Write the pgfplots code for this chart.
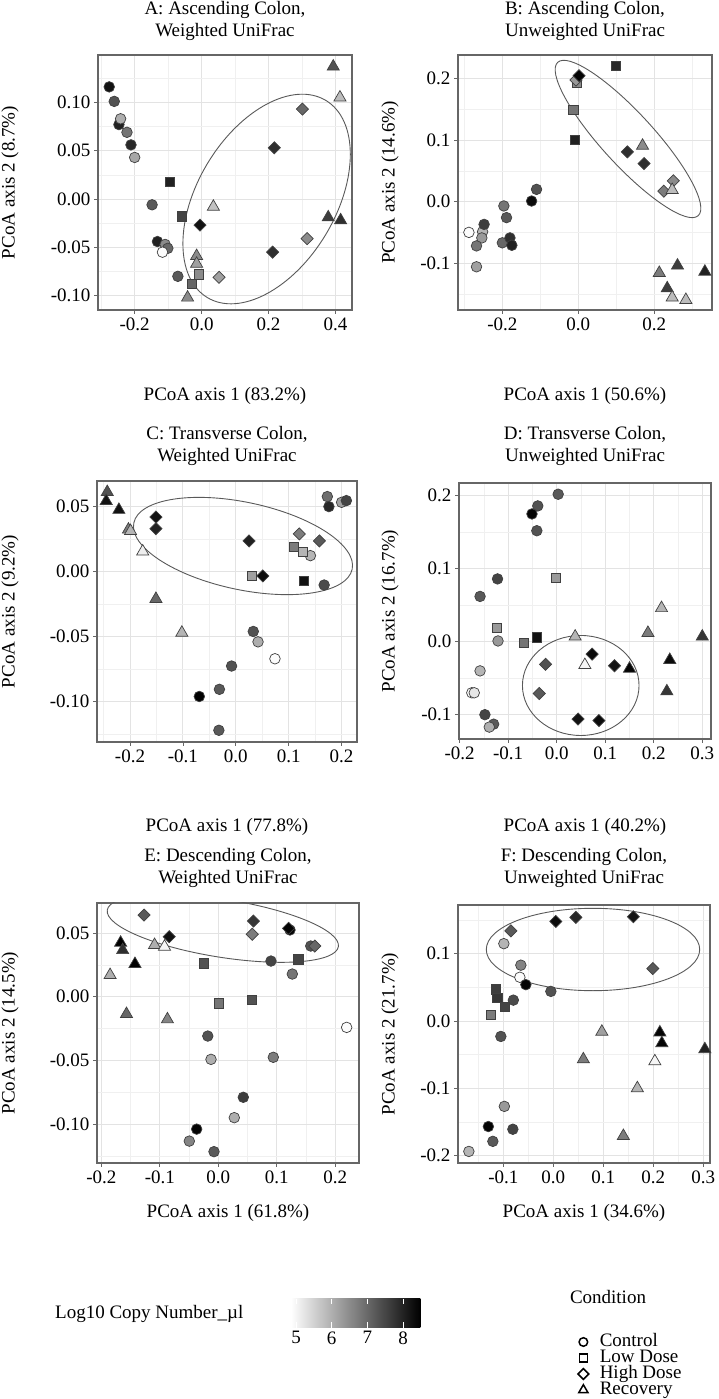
\documentclass[border=0pt]{standalone}
\usepackage{fontspec}
\setmainfont{Liberation Serif}
\usepackage{pgfplots}
\pgfplotsset{compat=1.18}

\newcommand{\txt}{\fontsize{19}{22}\selectfont}

\pgfplotsset{
  panel/.style={
    scale only axis, anchor=south west,
    tick pos=left, tick align=outside,
    major tick length=4pt, minor tick length=0pt,
    tick style={black!60, line width=0.8pt},
    axis line style={black!60, line width=1.1pt},
    grid=both,
    major grid style={black!11, line width=0.9pt},
    minor grid style={black!6, line width=0.6pt},
    ticklabel style={font=\txt, text=black},
    scaled ticks=false,
    /pgf/number format/assume math mode=true,
    /pgf/number format/fixed, /pgf/number format/fixed zerofill,
    colormap={bw}{gray(0cm)=(1); gray(1cm)=(0)},
    point meta min=4.854, point meta max=8.485,
  },
  pt/.style={only marks, scatter, point meta=explicit,
    scatter/use mapped color={draw=black!75, fill=mapped color}},
  ctrl/.style={pt, mark=*, mark size=5.3pt, mark options={line width=0.7pt}},
  low/.style={pt, mark=square*, mark size=4.6pt, mark options={line width=0.7pt}},
  high/.style={pt, mark=square*, mark size=4.3pt, mark options={line width=0.7pt, rotate=45}},
  rec/.style={pt, mark=triangle*, mark size=7pt, mark options={line width=0.7pt}},
}
\tikzset{ell/.style={draw=black!65, line width=0.9pt}}

\begin{document}
\begin{tikzpicture}
\useasboundingbox (0pt,0pt) rectangle (718pt,1399pt);

% ---------------- A ----------------
\begin{axis}[panel, at={(98pt,1089pt)}, width=254pt, height=255pt,
  xmin=-0.3095, xmax=0.449, ymin=-0.1148, ymax=0.149,
  xtick={-0.2,0,0.2,0.4}, minor xtick={-0.3,-0.1,0.1,0.3},
  ytick={-0.1,-0.05,0,0.05,0.1}, minor ytick={-0.125,-0.075,-0.025,0.025,0.075,0.125},
  xticklabel style={/pgf/number format/precision=1},
  yticklabel style={/pgf/number format/precision=2}]
\addplot[ctrl] table[meta=c] {
x y c
-0.276 0.116 8.2
-0.261 0.101 7.3
-0.247 0.077 8.0
-0.242 0.083 6.0
-0.223 0.069 6.8
-0.211 0.056 7.9
-0.200 0.043 6.1
-0.148 -0.006 7.2
-0.132 -0.044 8.0
-0.109 -0.047 6.5
-0.101 -0.051 7.0
-0.117 -0.055 4.9
-0.071 -0.080 7.2
};
\addplot[low] table[meta=c] {
x y c
-0.095 0.018 8.0
-0.058 -0.018 7.5
-0.009 -0.078 6.5
-0.029 -0.088 7.0
};
\addplot[high] table[meta=c] {
x y c
-0.005 -0.027 8.2
0.301 0.093 7.0
0.217 0.053 7.8
0.212 -0.055 7.8
0.315 -0.041 6.5
0.052 -0.081 6.2
};
\addplot[rec] table[meta=c] {
x y c
0.393 0.137 7.3
0.413 0.105 5.8
0.035 -0.008 5.7
0.378 -0.019 7.6
0.415 -0.022 7.8
-0.015 -0.059 6.5
-0.015 -0.067 6.2
-0.042 -0.102 6.5
};
\draw[ell] (axis cs:0.194,0) ellipse [x radius=115pt, y radius=69pt, rotate=59];
\end{axis}

% ---------------- B ----------------
\begin{axis}[panel, at={(458pt,1089pt)}, width=254pt, height=255pt,
  xmin=-0.3167, xmax=0.3518, ymin=-0.1763, ymax=0.2387,
  xtick={-0.2,0,0.2}, minor xtick={-0.3,-0.1,0.1,0.3},
  ytick={-0.1,0,0.1,0.2}, minor ytick={-0.15,-0.05,0.05,0.15},
  xticklabel style={/pgf/number format/precision=1},
  yticklabel style={/pgf/number format/precision=1}]
\addplot[ctrl] table[meta=c] {
x y c
-0.288 -0.050 4.9
-0.252 -0.049 5.9
-0.248 -0.037 7.6
-0.254 -0.059 6.3
-0.268 -0.072 6.8
-0.268 -0.106 6.2
-0.196 -0.007 6.8
-0.189 -0.026 7.2
-0.200 -0.067 7.0
-0.180 -0.059 7.8
-0.175 -0.071 8.0
-0.123 0.001 8.3
-0.110 0.020 7.3
};
\addplot[low] table[meta=c] {
x y c
0.098 0.221 7.9
-0.003 0.193 6.5
-0.013 0.149 6.8
-0.009 0.100 8.0
};
\addplot[high] table[meta=c] {
x y c
-0.006 0.198 6.3
0.002 0.205 8.4
0.129 0.081 7.8
0.173 0.062 7.8
0.225 0.017 6.7
0.250 0.034 6.5
};
\addplot[rec] table[meta=c] {
x y c
0.169 0.091 6.5
0.247 0.019 5.8
0.213 -0.116 6.7
0.261 -0.104 7.6
0.234 -0.141 7.6
0.247 -0.156 5.8
0.283 -0.160 5.8
0.333 -0.114 8.0
};
\draw[ell] (axis cs:0.1307,0.102) ellipse [x radius=104pt, y radius=26pt, rotate=-47.5];
\end{axis}

% ---------------- C ----------------
\begin{axis}[panel, at={(97pt,657pt)}, width=260pt, height=261pt,
  xmin=-0.2624, xmax=0.2291, ymin=-0.131, ymax=0.0697,
  xtick={-0.2,-0.1,0,0.1,0.2}, minor xtick={-0.25,-0.15,-0.05,0.05,0.15},
  ytick={-0.1,-0.05,0,0.05}, minor ytick={-0.125,-0.075,-0.025,0.025},
  xticklabel style={/pgf/number format/precision=1},
  yticklabel style={/pgf/number format/precision=2}]
\addplot[ctrl] table[meta=c] {
x y c
0.141 0.0123 5.9
0.173 0.0577 6.9
0.176 0.050 7.9
0.200 0.0533 6.2
0.209 0.0546 7.5
0.167 -0.0103 7.4
0.033 -0.046 7.3
0.042 -0.054 6.0
0.074 -0.067 4.9
-0.008 -0.0726 7.3
-0.031 -0.0905 7.2
-0.069 -0.096 8.5
-0.032 -0.122 7.2
};
\addplot[low] table[meta=c] {
x y c
0.109 0.019 6.7
0.126 0.015 5.9
0.031 -0.0033 6.2
0.129 -0.007 8.2
};
\addplot[high] table[meta=c] {
x y c
-0.151 0.042 8.2
-0.151 0.033 8.0
0.025 0.0236 8.0
0.120 0.029 6.7
0.158 0.0236 7.2
0.051 -0.0033 8.3
};
\addplot[rec] table[meta=c] {
x y c
-0.243 0.0612 7.3
-0.245 0.0543 8.2
-0.221 0.0475 8.2
-0.203 0.0323 6.7
-0.199 0.0312 5.9
-0.176 0.0155 5.1
-0.151 -0.021 7.0
-0.102 -0.047 5.9
};
\draw[ell] (axis cs:0.0136,0.0197) ellipse [x radius=111.6pt, y radius=43.7pt, rotate=-12];
\end{axis}

% ---------------- D ----------------
\begin{axis}[panel, at={(459pt,660pt)}, width=252pt, height=256pt,
  xmin=-0.2014, xmax=0.318, ymin=-0.1333, ymax=0.2174,
  xtick={-0.2,-0.1,0,0.1,0.2,0.3}, minor xtick={-0.15,-0.05,0.05,0.15,0.25},
  ytick={-0.1,0,0.1,0.2}, minor ytick={-0.05,0.05,0.15},
  xticklabel style={/pgf/number format/precision=1},
  yticklabel style={/pgf/number format/precision=1}]
\addplot[ctrl] table[meta=c] {
x y c
0.003 0.202 7.2
-0.039 0.186 7.3
-0.051 0.175 8.4
-0.041 0.152 7.3
-0.122 0.086 7.5
-0.158 0.062 7.2
-0.121 0.001 6.3
-0.158 -0.040 5.9
-0.175 -0.070 4.9
-0.170 -0.070 5.2
-0.148 -0.100 7.5
-0.130 -0.113 7.2
-0.139 -0.117 6.0
};
\addplot[low] table[meta=c] {
x y c
-0.001 0.087 6.3
-0.123 0.019 6.3
-0.041 0.006 8.2
-0.068 -0.002 6.8
};
\addplot[high] table[meta=c] {
x y c
0.073 -0.017 8.3
-0.023 -0.031 7.3
0.119 -0.033 8.2
-0.036 -0.071 7.2
0.044 -0.106 8.2
0.087 -0.108 8.3
};
\addplot[rec] table[meta=c] {
x y c
0.038 0.007 5.9
0.058 -0.032 5.0
0.150 -0.037 8.4
0.188 0.012 6.7
0.216 0.046 5.9
0.300 0.007 7.7
0.233 -0.025 8.3
0.227 -0.068 7.7
};
\draw[ell] (axis cs:0.0495,-0.060) ellipse [x radius=58.3pt, y radius=50pt];
\end{axis}

% ---------------- E ----------------
\begin{axis}[panel, at={(97pt,236pt)}, width=262pt, height=260pt,
  xmin=-0.2074, xmax=0.2405, ymin=-0.1306, ymax=0.0736,
  xtick={-0.2,-0.1,0,0.1,0.2}, minor xtick={-0.15,-0.05,0.05,0.15},
  ytick={-0.1,-0.05,0,0.05}, minor ytick={-0.125,-0.075,-0.025,0.025},
  xticklabel style={/pgf/number format/precision=1},
  yticklabel style={/pgf/number format/precision=2}]
\addplot[ctrl] table[meta=c] {
x y c
0.1225 0.0524 8.4
0.158 0.0398 7.3
0.090 0.028 7.5
0.1265 0.0178 6.8
-0.018 -0.0309 7.3
-0.0125 -0.0492 6.0
0.094 -0.0476 6.7
0.0427 -0.079 7.6
0.0273 -0.095 6.0
-0.037 -0.104 8.4
-0.0496 -0.1134 6.6
-0.0074 -0.1217 7.2
0.2194 -0.0241 4.9
};
\addplot[low] table[meta=c] {
x y c
-0.0245 0.0262 7.3
0.1368 0.0293 7.5
0.001 -0.0052 6.8
0.058 -0.0026 7.3
};
\addplot[high] table[meta=c] {
x y c
-0.127 0.0641 7.2
-0.084 0.0471 8.2
0.060 0.0594 7.7
0.058 0.049 6.7
0.120 0.0537 8.4
0.165 0.0398 7.0
};
\addplot[rec] table[meta=c] {
x y c
-0.167 0.0424 8.5
-0.1635 0.0366 7.8
-0.1425 0.0257 8.5
-0.185 0.017 6.0
-0.109 0.0406 6.0
-0.092 0.0393 5.0
-0.157 -0.0136 7.0
-0.087 -0.0178 6.6
};
\draw[ell] (axis cs:0.0077,0.0537) ellipse [x radius=117pt, y radius=29pt, rotate=-9];
\end{axis}

% ---------------- F ----------------
\begin{axis}[panel, at={(458pt,236pt)}, width=252pt, height=258pt,
  xmin=-0.1907, xmax=0.3133, ymin=-0.2112, ymax=0.1725,
  xtick={-0.1,0,0.1,0.2,0.3}, minor xtick={-0.15,-0.05,0.05,0.15,0.25},
  ytick={-0.2,-0.1,0,0.1}, minor ytick={-0.15,-0.05,0.05,0.15},
  xticklabel style={/pgf/number format/precision=1},
  yticklabel style={/pgf/number format/precision=1}]
\addplot[ctrl] table[meta=c] {
x y c
-0.099 0.115 5.9
-0.065 0.083 6.6
-0.067 0.065 4.9
-0.055 0.054 8.4
-0.005 0.044 7.3
-0.080 0.031 7.4
-0.105 -0.023 7.3
-0.098 -0.127 6.3
-0.130 -0.157 8.4
-0.081 -0.161 7.5
-0.121 -0.179 7.2
-0.169 -0.194 5.9
};
\addplot[low] table[meta=c] {
x y c
-0.115 0.047 7.6
-0.112 0.034 7.7
-0.097 0.021 7.5
-0.125 0.009 6.7
};
\addplot[high] table[meta=c] {
x y c
0.005 0.148 8.3
0.045 0.154 7.9
0.160 0.155 8.2
-0.085 0.134 7.2
0.199 0.078 7.2
};
\addplot[rec] table[meta=c] {
x y c
0.097 -0.016 6.2
0.060 -0.057 6.7
0.213 -0.017 8.4
0.217 -0.033 8.4
0.303 -0.042 8.0
0.203 -0.060 5.0
0.168 -0.100 5.9
0.140 -0.171 6.7
};
\draw[ell] (axis cs:0.0793,0.1063) ellipse [x radius=106.7pt, y radius=41.2pt];
\end{axis}

% ---------------- titles and axis labels ----------------
\begin{scope}[every node/.style={font=\txt, inner sep=0pt, anchor=base}]
\node at (225pt,1384pt) {A: Ascending Colon,};
\node at (225pt,1362pt) {Weighted UniFrac};
\node at (585pt,1384pt) {B: Ascending Colon,};
\node at (585pt,1362pt) {Unweighted UniFrac};
\node at (227pt,959pt) {C: Transverse Colon,};
\node at (227pt,937pt) {Weighted UniFrac};
\node at (585pt,959pt) {D: Transverse Colon,};
\node at (585pt,937pt) {Unweighted UniFrac};
\node at (228pt,537pt) {E: Descending Colon,};
\node at (228pt,515pt) {Weighted UniFrac};
\node at (584pt,537pt) {F: Descending Colon,};
\node at (584pt,515pt) {Unweighted UniFrac};

\node at (225pt,998pt) {PCoA axis 1 (83.2\%)};
\node at (585pt,998pt) {PCoA axis 1 (50.6\%)};
\node at (227pt,567pt) {PCoA axis 1 (77.8\%)};
\node at (585pt,567pt) {PCoA axis 1 (40.2\%)};
\node at (228pt,181pt) {PCoA axis 1 (61.8\%)};
\node at (584pt,181pt) {PCoA axis 1 (34.6\%)};

\node[rotate=90] at (14.5pt,1216.5pt) {PCoA axis 2 (8.7\%)};
\node[rotate=90] at (394.5pt,1216.5pt) {PCoA axis 2 (14.6\%)};
\node[rotate=90] at (14.5pt,787.5pt) {PCoA axis 2 (9.2\%)};
\node[rotate=90] at (394.5pt,788pt) {PCoA axis 2 (16.7\%)};
\node[rotate=90] at (14.5pt,366pt) {PCoA axis 2 (14.5\%)};
\node[rotate=90] at (394.5pt,365pt) {PCoA axis 2 (21.7\%)};

\node[anchor=base west] at (55pt,80pt) {Log10 Copy Number\_µl};
\node at (608pt,95pt) {Condition};
\end{scope}

% ---------------- colour bar ----------------
\begin{axis}[at={(290.8pt,71pt)}, anchor=south west, scale only axis,
  width=129.5pt, height=29pt,
  xmin=4.854, xmax=8.485, ymin=0, ymax=1,
  axis line style={draw=none}, ytick=\empty, xtick={5,6,7,8},
  tick align=inside, xtick pos=both, xticklabel pos=left,
  major tick length=5.5pt, tick style={white, line width=1pt},
  axis on top, ticklabel style={font=\txt},
  /pgf/number format/assume math mode=true]
\fill[left color=white, right color=black] (axis cs:4.854,0) rectangle (axis cs:8.485,1);
\end{axis}

% ---------------- shape legend ----------------
\begin{axis}[hide axis, at={(578pt,65pt)}, anchor=north west, scale only axis,
  width=50pt, height=20pt, xmin=0, xmax=1, ymin=0, ymax=1,
  legend cell align=left,
  legend image code/.code={\draw[#1] plot coordinates {(0pt,0pt)};},
  legend style={at={(0,1)}, anchor=north west, draw=none, fill=none,
    inner sep=0pt, outer sep=0pt, row sep=0pt, column sep=11pt,
    nodes={inner sep=0pt, text height=12pt, text depth=4pt, font=\txt}}]
\addlegendimage{only marks, black, mark=o, mark size=4.3pt, mark options={line width=1.5pt}}
\addlegendimage{only marks, black, mark=square, mark size=4pt, mark options={line width=1.5pt}}
\addlegendimage{only marks, black, mark=square, mark size=3.8pt, mark options={line width=1.5pt, rotate=45}}
\addlegendimage{only marks, black, mark=triangle, mark size=5.3pt, mark options={line width=1.5pt}}
\legend{Control, Low Dose, High Dose, Recovery}
\end{axis}
\end{tikzpicture}
\end{document}
